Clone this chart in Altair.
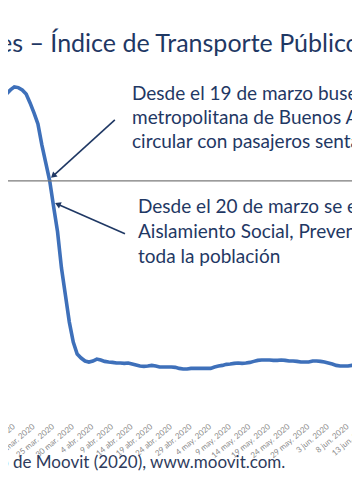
import altair as alt
import pandas as pd

# ---------------- data ----------------
START_DATE = "2020-03-10"
INDEX_VALUES = [
    96.1, 96.7, 97.0, 97.9, 99.1, 100.0, 99.8, 99.1, 97.9, 95.2,
    92.2, 88.9, 82.6, 77.2, 71.8, 64.0, 56.5, 45.6, 37.5, 29.4,
    23.4, 19.8, 18.6, 17.7, 17.4, 17.7, 18.3, 18.0, 17.6, 17.4,
    17.3, 17.1, 17.1, 17.0, 17.1, 16.8, 16.5, 16.2, 16.1, 16.2,
    16.4, 16.2, 15.9, 15.9, 15.9, 15.9, 15.8, 15.5, 15.3, 15.3,
    15.5, 15.5, 15.5, 15.5, 15.5, 15.5, 15.9, 16.2, 16.4, 16.7,
    16.8, 17.0, 17.1, 17.0, 17.1, 17.3, 17.6, 17.9, 18.0, 18.0,
    18.0, 17.9, 17.9, 18.0, 17.9, 17.7, 17.7, 17.6, 17.4, 17.4,
    17.4, 17.7, 17.7, 17.6, 17.4, 17.1, 16.8, 16.4, 16.2, 16.2,
    16.2, 16.4, 16.5, 16.7, 16.8,
]
TICK_DATES = [
    "2020-03-10", "2020-03-15", "2020-03-20", "2020-03-25", "2020-03-30",
    "2020-04-04", "2020-04-09", "2020-04-14", "2020-04-19", "2020-04-24",
    "2020-04-29", "2020-05-04", "2020-05-09", "2020-05-14", "2020-05-19",
    "2020-05-24", "2020-05-29", "2020-06-03", "2020-06-08", "2020-06-13",
]
MONTH_ABBR = ["ene.", "feb.", "mar.", "abr.", "may.", "jun.", "jul."]
REF_LEVEL = 71.8

TITLE = "es – Índice de Transporte Público"
NOTE_1 = ["Desde el 19 de marzo buses", "metropolitana de Buenos Aires",
          "circular con pasajeros sentados"]
NOTE_2 = ["Desde el 20 de marzo se establece", "Aislamiento Social, Preventivo",
          "toda la población"]
SOURCE = "o de Moovit (2020), www.moovit.com."

# arrows: (days after 20 mar, index value)
ARROW_TAIL_DAYS = [20.6, 23.18]
ARROW_TAIL_VAL = [90.1, 55.9]
ARROW_HEAD_DAYS = [4.89, 6.04]
ARROW_HEAD_VAL = [73.3, 64.8]
ARROW_ANGLE = [227.8, 294.0]

X_START = "2020-03-11 08:06"
X_END = "2020-06-21 06:00"

# ---------------- tables ----------------
def ms(s):
    return int(pd.Timestamp(s).value // 10**6)

dates = pd.date_range(START_DATE, periods=len(INDEX_VALUES), freq="D")
df = pd.DataFrame({"fecha": [int(t.value // 10**6) for t in dates],
                   "valor": INDEX_VALUES})

base_day = pd.Timestamp("2020-03-20")
def ts(d):
    return int((base_day + pd.Timedelta(days=d)).value // 10**6)

arrows = pd.DataFrame({
    "x0": [ts(d) for d in ARROW_TAIL_DAYS],
    "y0": ARROW_TAIL_VAL,
    "x1": [ts(d) for d in ARROW_HEAD_DAYS],
    "y1": ARROW_HEAD_VAL,
    "ang": ARROW_ANGLE,
})

ticks = pd.DataFrame({
    "t": [ms(s) for s in TICK_DATES],
    "lab": [f"{pd.Timestamp(s).day} {MONTH_ABBR[pd.Timestamp(s).month - 1]} 2020"
            for s in TICK_DATES],
})

xscale = alt.Scale(type="utc", domain=[ms(X_START), ms(X_END)])
yscale = alt.Scale(domain=[0, 126.1], zero=False, nice=False)

FONT = "Lato"
NAVY = "#1f3864"

line = alt.Chart(df).mark_line(color="#3e70ba", strokeWidth=3.6).encode(
    x=alt.X("fecha:T", scale=xscale, axis=None),
    y=alt.Y("valor:Q", scale=yscale, axis=None),
)

tick_labels = alt.Chart(ticks).mark_text(
    align="right", baseline="middle", angle=320, font=FONT, fontSize=8,
    color="#8a8a8a"
).encode(
    x=alt.X("t:T", scale=xscale, axis=None),
    y=alt.value(426),
    text="lab:N",
)

ref = alt.Chart(pd.DataFrame({"v": [REF_LEVEL]})).mark_rule(
    color="#7a7a7a", strokeWidth=1.2).encode(y=alt.Y("v:Q", scale=yscale, axis=None))

arrow_lines = alt.Chart(arrows).mark_rule(color=NAVY, strokeWidth=1.6).encode(
    x=alt.X("x0:T", scale=xscale, axis=None), y=alt.Y("y0:Q", scale=yscale, axis=None),
    x2="x1:T", y2="y1:Q",
)
arrow_heads = alt.Chart(arrows).mark_point(
    shape="triangle-up", filled=True, color=NAVY, size=45, opacity=1).encode(
    x=alt.X("x1:T", scale=xscale, axis=None), y=alt.Y("y1:Q", scale=yscale, axis=None),
    angle=alt.Angle("ang:Q", scale=alt.Scale(domain=[0, 360], range=[0, 360])),
)

one = pd.DataFrame({"k": [0]})

def text_layer(txt, x, y, size, color, line_height=None):
    kw = dict(align="left", baseline="alphabetic", font=FONT, fontSize=size, color=color)
    if line_height is not None:
        kw["lineHeight"] = line_height
        kw["lineBreak"] = "\n"
    return alt.Chart(one).mark_text(**kw).encode(
        x=alt.value(x), y=alt.value(y), text=alt.value(txt))

title = text_layer(TITLE, -1, 52, 25, NAVY)
note1 = text_layer("\n".join(NOTE_1), 132, 100, 19, NAVY, 24)
note2 = text_layer("\n".join(NOTE_2), 138, 213, 19, NAVY, 25)
source = text_layer(SOURCE, -1, 468, 17, "#2e3b5c")

chart = alt.layer(line, ref, tick_labels, arrow_lines, arrow_heads,
                  title, note1, note2, source).properties(
    width=400, height=420,
    autosize=alt.AutoSizeParams(type="none"),
    padding={"left": -8, "top": -8, "right": -48, "bottom": 76},
).configure_view(stroke=None)

chart.save("out.html", embed_options={"renderer": "svg", "actions": False})
